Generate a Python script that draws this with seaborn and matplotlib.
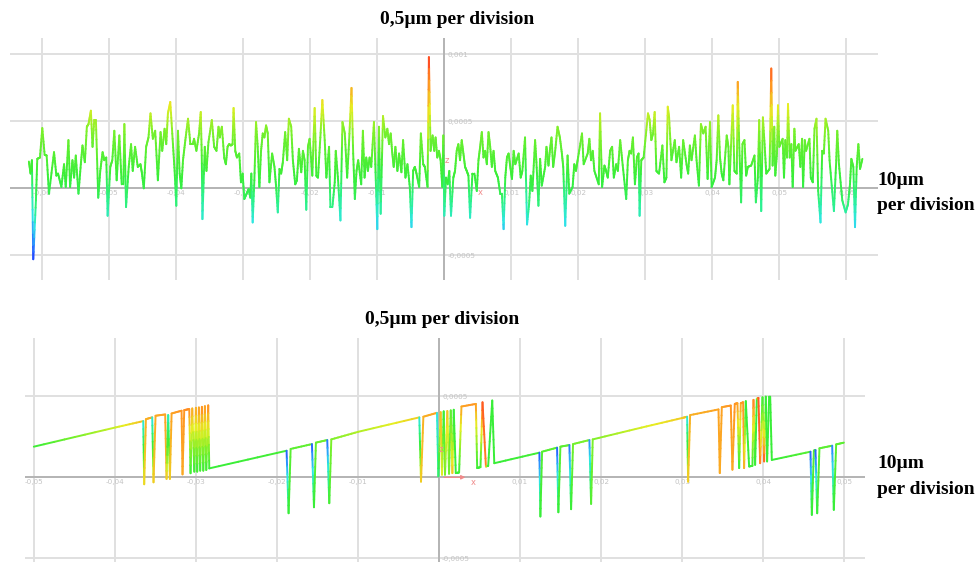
import numpy as np
import matplotlib
matplotlib.use("Agg")
import matplotlib.pyplot as plt
from matplotlib.collections import LineCollection
import seaborn as sns

# upper profile: position in mm, height in 1e-4 mm
top_x = [
    -0.0620, -0.06175, -0.06155, -0.06135, -0.06095, -0.06075, -0.06035, -0.0600, -0.05965, -0.05935,
    -0.0590, -0.05825, -0.0579, -0.05765, -0.05715, -0.05675, -0.0565, -0.0561, -0.05585, -0.0555,
    -0.05525, -0.0550, -0.0546, -0.05425, -0.0540, -0.05365, -0.05335, -0.0531, -0.05275, -0.0525,
    -0.05225, -0.0520, -0.05165, -0.05135, -0.0510, -0.05075, -0.05045, -0.05025, -0.04985, -0.04955,
    -0.04925, -0.0489, -0.0485, -0.04815, -0.0479, -0.04775, -0.0475, -0.0471, -0.04675, -0.0465,
    -0.04615, -0.04575, -0.04535, -0.04515, -0.04485, -0.0445, -0.04415, -0.04385, -0.0435, -0.04315,
    -0.04275, -0.04235, -0.0421, -0.04175, -0.0415, -0.04125, -0.0409, -0.0405, -0.04025, -0.0400,
    -0.03975, -0.0395, -0.03925, -0.0390, -0.03865, -0.03825, -0.0379, -0.0375, -0.03735, -0.0370,
    -0.0366, -0.03635, -0.0362, -0.0361, -0.03575, -0.0355, -0.0352, -0.0347, -0.03435, -0.0340,
    -0.0337, -0.0335, -0.0332, -0.03285, -0.0326, -0.03235, -0.0321, -0.03185, -0.0316, -0.03145,
    -0.0312, -0.03095, -0.0306, -0.03035, -0.0301, -0.02985, -0.0295, -0.0292, -0.02895, -0.0288,
    -0.0286, -0.02835, -0.0281, -0.02785, -0.0276, -0.02735, -0.0271, -0.02685, -0.0266, -0.02635,
    -0.0261, -0.0257, -0.02535, -0.0251, -0.02485, -0.0246, -0.02435, -0.0241, -0.02375, -0.02345,
    -0.0232, -0.02285, -0.0226, -0.02225, -0.0220, -0.0217, -0.02135, -0.0211, -0.02085, -0.0206,
    -0.02035, -0.0201, -0.0197, -0.01935, -0.0191, -0.01885, -0.0185, -0.0182, -0.01785, -0.0176,
    -0.0172, -0.0170, -0.0167, -0.01635, -0.0162, -0.01585, -0.0155, -0.0152, -0.01485, -0.0145,
    -0.0142, -0.01385, -0.0136, -0.01335, -0.0131, -0.01285, -0.0124, -0.01215, -0.0119, -0.01165,
    -0.0114, -0.01115, -0.0109, -0.0105, -0.0103, -0.0100, -0.00975, -0.0095, -0.00915, -0.0088,
    -0.0085, -0.00825, -0.0080, -0.0078, -0.00755, -0.0073, -0.0070, -0.00675, -0.0064, -0.00615,
    -0.0058, -0.0055, -0.00515, -0.0049, -0.00465, -0.0044, -0.00415, -0.00375, -0.0035, -0.00315,
    -0.0029, -0.0025, -0.0023, -0.00205, -0.00175, -0.0015, -0.0013, -0.00105, -0.0008, -0.00055,
    -0.0003, -0.00015, 0.0, 0.00025, 0.0005, 0.00075, 0.001, 0.00135, 0.0016, 0.00185,
    0.0021, 0.00235, 0.0026, 0.00285, 0.0031, 0.00335, 0.0036, 0.00385, 0.0042, 0.0045,
    0.00485, 0.0051, 0.00535, 0.0056, 0.00585, 0.0061, 0.00635, 0.0066, 0.00685, 0.0071,
    0.00735, 0.0076, 0.0080, 0.00835, 0.0086, 0.00885, 0.0091, 0.00935, 0.0096, 0.00985,
    0.0101, 0.01035, 0.0106, 0.0111, 0.0114, 0.01165, 0.01205, 0.01235, 0.01265, 0.0129,
    0.01315, 0.01355, 0.01375, 0.01405, 0.0143, 0.01455, 0.01505, 0.01525, 0.01555, 0.01575,
    0.0160, 0.01625, 0.01655, 0.0169, 0.01725, 0.01755, 0.01775, 0.01805, 0.0184, 0.01865,
    0.01915, 0.0194, 0.01965, 0.0199, 0.02055, 0.0208, 0.0214, 0.02165, 0.0219, 0.02215,
    0.0224, 0.02305, 0.02325, 0.02355, 0.0239, 0.02415, 0.0244, 0.02475, 0.02505, 0.0253,
    0.02565, 0.0259, 0.02625, 0.02655, 0.02715, 0.0274, 0.02765, 0.0279, 0.02815, 0.02845,
    0.02875, 0.0290, 0.02915, 0.0294, 0.02975, 0.0304, 0.03065, 0.0309, 0.03115, 0.0314,
    0.03165, 0.03205, 0.03255, 0.03285, 0.03315, 0.03335, 0.03355, 0.0339, 0.0344, 0.03465,
    0.03505, 0.03535, 0.03565, 0.03615, 0.0364, 0.03665, 0.0369, 0.0374, 0.03765, 0.0380,
    0.0383, 0.03865, 0.0390, 0.0393, 0.03965, 0.0399, 0.0404, 0.04065, 0.0409, 0.04115,
    0.0414, 0.04165, 0.04215, 0.0424, 0.04255, 0.04305, 0.0433, 0.04365, 0.0438, 0.0440,
    0.0443, 0.0445, 0.0448, 0.04505, 0.0453, 0.0458, 0.0463, 0.0465, 0.0468, 0.0470,
    0.0473, 0.04755, 0.0478, 0.04805, 0.04855, 0.0488, 0.0490, 0.04925, 0.0494, 0.04965,
    0.0498, 0.0500, 0.0505, 0.0507, 0.0509, 0.05115, 0.0513, 0.05155, 0.0518, 0.0520,
    0.05225, 0.0524, 0.0529, 0.05315, 0.0534, 0.05355, 0.0538, 0.0540, 0.0545, 0.0547,
    0.0550, 0.05525, 0.05555, 0.0558, 0.05615, 0.0564, 0.05665, 0.0569, 0.0573, 0.0575,
    0.05815, 0.0585, 0.05865, 0.0589, 0.0594, 0.0599, 0.06025, 0.06055, 0.06075, 0.06105,
    0.0613, 0.06155, 0.0618, 0.06205, 0.0624,
]
top_h = [
    2.0, 1.1, 2.1, -5.3, -0.9, 2.2, 2.3, 4.5, 2.5, 2.45,
    -0.4, 2.7, 0.95, 1.1, 0.1, 1.8, 0.1, 3.6, 0.1, 2.1,
    0.8, 2.45, -0.4, 1.8, 3.2, 1.95, 4.6, 4.8, 5.8, 3.1,
    5.1, 5.1, -0.7, 1.3, 2.7, 2.1, 2.3, -2.05, 1.6, 2.1,
    4.3, 0.6, 3.95, 0.3, 0.3, 4.8, -1.4, 1.6, 3.3, 1.3,
    3.1, 1.6, 1.8, 1.2, 0.0, 3.1, 3.8, 5.6, 3.7, 4.3,
    0.6, 4.2, 2.8, 4.45, 3.3, 5.6, 6.45, 3.3, 1.3, -1.3,
    4.3, 1.1, 0.0, 2.1, 3.6, 5.2, 3.3, 3.3, 3.7, 2.8,
    4.1, 5.7, 2.45, -2.3, 3.1, 1.3, 3.45, 5.1, 3.1, 2.8,
    4.6, 3.8, 4.6, 2.3, 1.8, 3.1, 3.3, 3.2, 3.3, 6.0,
    2.8, 2.3, 2.6, 0.45, 1.1, -0.8, -0.4, -0.05, -0.7, 1.1,
    -2.55, 0.6, 4.95, 3.1, 0.1, 2.8, 4.1, 3.8, 4.7, 4.1,
    0.45, 2.6, 1.6, 0.1, -1.8, 1.45, 1.1, 1.95, 4.2, 2.1,
    5.2, 4.6, 2.1, 0.3, 0.6, 2.95, 1.2, 2.8, 2.1, -1.6,
    3.1, 3.7, 0.95, 6.0, 0.95, 0.8, 3.8, 6.6, 3.6, 0.8,
    3.1, -1.4, -1.4, 0.45, 2.8, 0.6, -2.4, 4.95, 4.1, 0.8,
    3.6, 7.5, 2.6, -0.8, 1.3, 2.1, 0.3, 4.3, 0.8, 2.3,
    1.3, 2.3, 1.6, 4.95, 1.8, -3.05, 4.6, -1.9, 5.4, 3.8,
    4.45, 3.3, 4.1, 2.8, 1.6, 3.1, 1.3, 2.6, 1.2, 3.6,
    0.8, 1.8, 0.1, -2.9, 1.3, 1.6, 1.1, 0.1, 4.1, 1.8,
    1.6, 0.1, 9.8, 2.8, 3.95, 2.8, 3.8, 2.3, 2.8, 2.1,
    0.1, 3.95, -2.05, 0.8, 0.3, 1.3, -2.05, 0.8, 1.3, 2.8,
    3.3, 2.1, 3.6, 2.6, 1.6, 1.3, 0.95, -2.2, 1.1, 1.1,
    -0.2, 2.1, 3.1, 4.2, 2.3, 2.8, 1.8, 4.2, 3.1, 1.6,
    2.8, 1.3, 0.8, -0.4, -0.4, -3.05, 0.8, 2.3, 2.6, 1.6,
    0.7, 2.8, 1.8, 2.6, 0.8, 1.3, 3.8, -2.7, -1.2, 0.95,
    -0.2, 3.6, 1.95, -1.3, 2.2, 0.2, 1.6, 3.1, 1.7, 2.8,
    3.8, 1.6, 2.8, 4.6, 3.8, 2.6, 1.6, -2.8, 2.45, -0.4,
    0.1, 1.8, 1.3, 2.1, 4.1, 1.8, 2.6, 3.7, 2.1, 2.8,
    1.3, 0.3, 5.6, 0.1, 1.7, 1.3, 0.8, 2.8, 3.1, 0.8,
    1.8, 1.3, 3.6, 2.1, -0.8, 2.1, 2.8, 2.6, 3.8, 0.3,
    2.3, 2.6, -2.05, 2.1, 2.3, 5.6, 5.1, 3.6, 4.1, 5.7,
    1.3, 1.1, 3.2, 0.45, 0.8, 6.1, 5.3, 2.1, 3.6, 1.95,
    3.1, 0.8, 3.6, 1.8, 1.1, 3.2, 2.1, 3.95, 2.1, 0.2,
    4.8, 4.1, 4.6, 0.7, 4.95, 0.1, 0.8, 2.1, 5.45, 2.3,
    1.1, 0.6, 3.95, 3.1, 0.3, 6.2, 1.3, 1.1, 7.95, 3.6,
    -1.05, 3.3, 3.6, 0.95, 1.6, 1.7, 2.45, -1.05, 0.8, 5.1,
    -1.7, 5.3, 3.3, 1.1, 1.45, 8.95, 1.7, 4.6, 0.95, 2.6,
    6.2, 3.1, 3.7, 0.8, 3.6, 2.3, 6.3, 2.3, 3.3, 0.1,
    4.45, 2.8, 3.3, 1.6, 3.7, 0.1, 3.6, 2.8, 3.7, 0.8,
    0.45, 4.45, 5.2, -0.2, -2.55, 2.8, 2.6, 5.2, 4.3, 2.1,
    -1.7, 2.1, 4.3, 1.8, -0.9, -1.8, -1.2, 0.3, 2.2, 1.6,
    -2.9, 1.6, 3.3, 1.45, 2.2,
]

# lower profile: position in mm, height in 1e-4 mm, colour value (0 blue .. 1 red)
bot_x = [
    -0.0500, -0.0399, -0.0365, -0.0365, -0.03638, -0.03617, -0.03539, -0.03539, -0.03523, -0.03498,
    -0.03379, -0.03362, -0.03342, -0.03321, -0.0330, -0.03177, -0.03165, -0.03144, -0.03082, -0.03066,
    -0.03045, -0.0302, -0.0300, -0.02984, -0.02963, -0.02947, -0.02926, -0.02909, -0.02889, -0.02872,
    -0.02848, -0.02835, -0.01881, -0.01881, -0.01856, -0.01831, -0.01568, -0.01568, -0.01543, -0.01519,
    -0.01379, -0.01379, -0.01354, -0.01329, -0.00996, -0.00243, -0.00243, -0.00222, -0.00193, -0.00025,
    -0.00025, -0.00008, 0.00021, 0.00037, 0.00058, 0.00074, 0.00103, 0.00124, 0.00145, 0.00165,
    0.00182, 0.00207, 0.00248, 0.00277, 0.00455, 0.00471, 0.00512, 0.00537, 0.00579, 0.00607,
    0.00657, 0.00682, 0.01239, 0.01239, 0.01251, 0.01272, 0.01457, 0.01457, 0.01473, 0.01498,
    0.01609, 0.01609, 0.0163, 0.01654, 0.01856, 0.01856, 0.01877, 0.01897, 0.0250, 0.0300,
    0.03062, 0.03062, 0.03074, 0.03099, 0.03449, 0.03465, 0.0349, 0.03601, 0.03621, 0.0365,
    0.03683, 0.03704, 0.03724, 0.03753, 0.03765, 0.03786, 0.03827, 0.03868, 0.03881, 0.03901,
    0.03922, 0.03942, 0.03963, 0.03992, 0.04012, 0.04033, 0.04049, 0.04074, 0.04087, 0.04107,
    0.04584, 0.04584, 0.04601, 0.04626, 0.04646, 0.04646, 0.04667, 0.04695, 0.04852, 0.04852,
    0.04872, 0.04901, 0.04996,
]
bot_h = [
    1.89, 3.08, 3.47, 3.47, -0.43, 3.59, 3.70, 3.70, -0.31, 3.80,
    3.88, -0.10, 3.84, -0.10, 3.94, 4.11, 0.18, 4.15, 4.21, 0.25,
    4.25, 0.35, 4.29, 0.35, 4.31, 0.41, 4.35, 0.41, 4.39, 0.45,
    4.44, 0.55, 1.64, 1.64, -2.22, 1.75, 2.05, 2.05, -1.85, 2.14,
    2.30, 2.30, -1.60, 2.34, 2.81, 3.70, 3.70, -0.27, 3.74, 3.98,
    3.98, 0.06, 4.02, 0.16, 4.07, 0.16, 4.09, 0.22, 4.13, 0.26,
    4.17, 0.26, 0.30, 4.37, 4.53, 0.57, 0.63, 4.63, 0.67, 0.71,
    4.74, 0.87, 1.52, 1.52, -2.42, 1.58, 1.83, 1.83, -2.16, 1.89,
    1.99, 1.99, -1.97, 2.05, 2.30, 2.30, -1.64, 2.34, 3.07, 3.66,
    3.74, 3.74, -0.27, 3.84, 4.19, 0.26, 4.33, 4.43, 0.47, 4.53,
    4.57, 0.57, 4.57, 4.63, 0.57, 4.70, 0.67, 0.71, 4.78, 0.77,
    4.84, 4.90, 0.87, 4.94, 0.98, 4.98, 0.98, 4.98, 4.98, 1.07,
    1.58, 1.58, -2.32, 1.64, 1.68, 1.68, -2.22, 1.79, 1.95, 1.95,
    -2.01, 2.03, 2.14,
]
bot_c = [
    0.50, 0.72, 0.82, 0.25, 0.78, 0.84, 0.85, 0.25, 0.80, 0.85,
    0.86, 0.82, 0.30, 0.80, 0.86, 0.88, 0.85, 0.88, 0.90, 0.50,
    0.86, 0.50, 0.86, 0.50, 0.88, 0.50, 0.90, 0.50, 0.88, 0.50,
    0.90, 0.50, 0.52, 0.05, 0.50, 0.56, 0.57, 0.05, 0.50, 0.58,
    0.60, 0.08, 0.52, 0.62, 0.68, 0.80, 0.25, 0.80, 0.84, 0.86,
    0.25, 0.40, 0.82, 0.75, 0.50, 0.60, 0.82, 0.60, 0.55, 0.82,
    0.50, 0.50, 0.50, 0.86, 0.88, 0.50, 0.50, 0.96, 0.90, 0.50,
    0.50, 0.50, 0.52, 0.05, 0.50, 0.55, 0.56, 0.05, 0.50, 0.56,
    0.57, 0.08, 0.50, 0.60, 0.62, 0.12, 0.55, 0.62, 0.73, 0.80,
    0.82, 0.25, 0.80, 0.84, 0.86, 0.85, 0.86, 0.88, 0.85, 0.88,
    0.88, 0.50, 0.86, 0.88, 0.85, 0.50, 0.50, 0.50, 0.92, 0.50,
    0.50, 0.96, 0.92, 0.50, 0.96, 0.50, 0.50, 0.50, 0.50, 0.50,
    0.55, 0.05, 0.50, 0.55, 0.55, 0.05, 0.50, 0.56, 0.56, 0.10,
    0.50, 0.56, 0.56,
]

# height (1e-4 mm) -> colour value used for the upper profile
top_colour_h = [-5.5, -2.5, -0.8, 4.2, 6.0, 8.0, 9.5]
top_colour_c = [0.0, 0.25, 0.45, 0.60, 0.74, 0.88, 1.0]

top_xticks = [-0.06, -0.05, -0.04, -0.03, -0.02, -0.01, 0.0, 0.01, 0.02, 0.03, 0.04, 0.05, 0.06]
top_xlabels = ["-0,06", "-0,05", "-0,04", "-0,03", "-0,02", "-0,01", "", "0,01", "0,02", "0,03", "0,04", "0,05", "0,06"]
top_yticks = [-5, 0, 5, 10]
top_ylabels = ["-0,0005", "", "0,0005", "0,001"]
bot_xticks = [-0.05, -0.04, -0.03, -0.02, -0.01, 0.0, 0.01, 0.02, 0.03, 0.04, 0.05]
bot_xlabels = ["-0,05", "-0,04", "-0,03", "-0,02", "-0,01", "", "0,01", "0,02", "0,03", "0,04", "0,05"]
bot_yticks = [-5, 0, 5]
bot_ylabels = ["-0,0005", "", "0,0005"]

title_text = "0,5µm per division"
side_text = ["10µm", "per division"]

assert len(top_x) == len(top_h)
assert len(bot_x) == len(bot_h) == len(bot_c)

sns.set_theme(style="white")
cmap = sns.blend_palette(
    ["#1f2cff", "#2a8cff", "#2ee6e6", "#2cf28a", "#38ee38",
     "#80f02a", "#e6ee22", "#ff9a22", "#ff3a22"],
    as_cmap=True,
)

GRID = "#e0e0e0"
AXIS = "#b4b4b4"
TICK = "#c4c4c4"
GIZMO = "#f08a8a"


def colored_line(ax, x, y, c, n=8):
    x, y, c = np.asarray(x), np.asarray(y), np.asarray(c)
    t = np.linspace(0, 1, n + 1)
    segs, vals = [], []
    for i in range(len(x) - 1):
        px = x[i] + (x[i + 1] - x[i]) * t
        py = y[i] + (y[i + 1] - y[i]) * t
        pc = c[i] + (c[i + 1] - c[i]) * t
        pts = np.column_stack([px, py])
        segs.extend(np.stack([pts[:-1], pts[1:]], axis=1))
        vals.extend((pc[:-1] + pc[1:]) / 2)
    lc = LineCollection(segs, colors=cmap(np.array(vals)), linewidths=1.4,
                        capstyle="round", joinstyle="round", zorder=3)
    ax.add_collection(lc)


def setup(ax, xlim, ylim, xticks, xlabels, yticks, ylabels):
    ax.set_xlim(*xlim)
    ax.set_ylim(*ylim)
    ax.set_xticks(xticks)
    ax.set_yticks(yticks)
    ax.tick_params(length=0, labelbottom=False, labelleft=False)
    ax.grid(True, color=GRID, lw=1.4)
    ax.set_axisbelow(True)
    ax.axhline(0, color=AXIS, lw=1.4, zorder=1)
    ax.axvline(0, color=AXIS, lw=1.4, zorder=1)
    sns.despine(ax=ax, left=True, bottom=True)
    ax.patch.set_alpha(0)
    for xv, lab in zip(xticks, xlabels):
        ax.annotate(lab, (xv, 0), xytext=(0, -5), textcoords="offset pixels",
                    ha="center", va="center", fontsize=5.2, color=TICK)
    for yv, lab in zip(yticks, ylabels):
        ax.annotate(lab, (0, yv), xytext=(3, -1), textcoords="offset pixels",
                    ha="left", va="center", fontsize=5.2, color=TICK)


fig = plt.figure(figsize=(9.78, 5.62), dpi=100)
W, H = 978, 562

ax_top = fig.add_axes([10 / W, 1 - 280 / H, 868 / W, 242 / H])
setup(ax_top, (-0.06482, 0.06473), (-6.85, 11.23),
      top_xticks, top_xlabels, top_yticks, top_ylabels)
top_c = np.interp(top_h, top_colour_h, top_colour_c)
colored_line(ax_top, top_x, top_h, top_c)
ax_top.text(0.0004, 2.1, "z", color=GIZMO, fontsize=6, ha="center", va="center")
ax_top.text(0.0053, -0.35, "x", color=GIZMO, fontsize=6, ha="center", va="center")

ax_bot = fig.add_axes([25 / W, 0, 840 / W, 224 / H])
setup(ax_bot, (-0.05109, 0.05257), (-5.23, 8.60),
      bot_xticks, bot_xlabels, bot_yticks, bot_ylabels)
colored_line(ax_bot, bot_x, bot_h, bot_c)
ax_bot.annotate("", xy=(0.0036, 0), xytext=(0.0003, 0),
                arrowprops=dict(arrowstyle="-|>", color=GIZMO, lw=0.9, mutation_scale=6))
ax_bot.text(0.00423, -0.3, "x", color=GIZMO, fontsize=6, ha="center", va="center")
ax_bot.text(0.0002, 1.69, "z", color=GIZMO, fontsize=6, ha="center", va="center")

serif = dict(family="Liberation Serif", fontweight="bold", fontsize=14, color="black")
fig.text(457.5 / W, 1 - 19 / H, title_text, ha="center", va="center", **serif)
fig.text(442 / W, 1 - 320 / H, title_text, ha="center", va="center", **serif)
fig.text(877 / W, 1 - 180 / H, side_text[0], ha="left", va="center", **serif)
fig.text(877 / W, 1 - 205 / H, side_text[1], ha="left", va="center", **serif)
fig.text(877 / W, 1 - 464 / H, side_text[0], ha="left", va="center", **serif)
fig.text(877 / W, 1 - 490 / H, side_text[1], ha="left", va="center", **serif)

fig.savefig("out.png", dpi=100, facecolor="white")
